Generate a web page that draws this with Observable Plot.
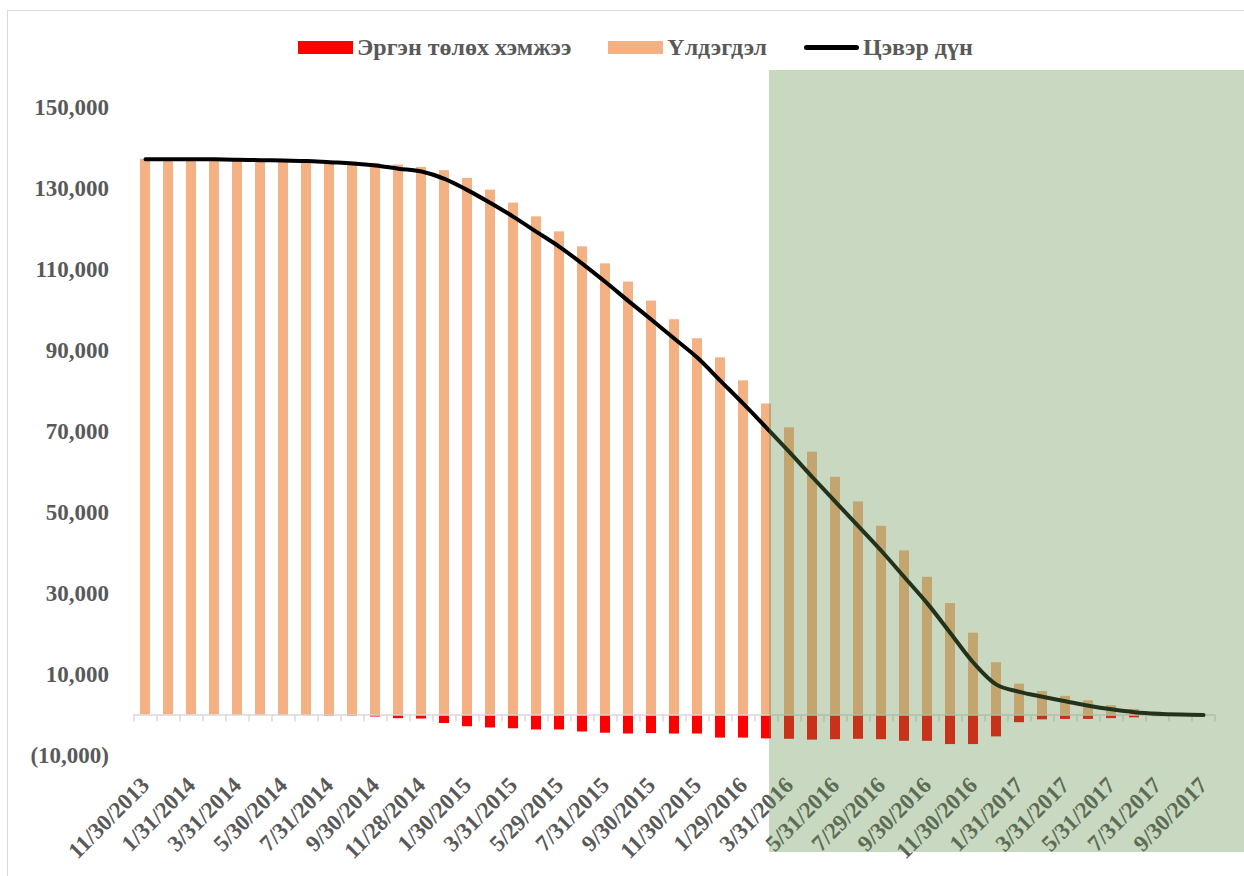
<!DOCTYPE html>
<html><head><meta charset="utf-8">
<script src="https://cdn.jsdelivr.net/npm/d3@7"></script>
<script src="https://cdn.jsdelivr.net/npm/@observablehq/plot@0.6"></script>
<style>
html,body{margin:0;padding:0;background:#fff;}
#wrap{position:relative;width:1244px;height:876px;overflow:hidden;font-family:"Liberation Serif","Times New Roman",serif;}
#frame{position:absolute;left:7px;top:10px;width:1300px;height:900px;border:1.5px solid #d9d9d9;box-sizing:border-box;}
#legend{position:absolute;top:35px;left:298px;height:24px;display:flex;align-items:center;font-weight:bold;font-size:24px;color:#595959;white-space:nowrap;}
.item{display:flex;align-items:center;margin-right:37px}
.sw{width:55px;height:13px;margin-right:4px}
.ln{width:55px;height:5px;border-radius:3px;background:#000;margin-right:4px}
#chart{position:absolute;left:0;top:70px;}
#shade{position:absolute;background:rgb(100,144,75);opacity:0.35;pointer-events:none}
</style></head>
<body><div id="wrap"><div id="frame"></div><div id="legend"></div><div id="chart"></div><div id="shade"></div></div>
<script>
const dates = ["11/30/2013","12/31/2013","1/31/2014","2/28/2014","3/31/2014","4/30/2014","5/30/2014","6/30/2014","7/31/2014","8/29/2014","9/30/2014","10/31/2014","11/28/2014","12/31/2014","1/30/2015","2/27/2015","3/31/2015","4/30/2015","5/29/2015","6/30/2015","7/31/2015","8/31/2015","9/30/2015","10/30/2015","11/30/2015","12/31/2015","1/29/2016","2/29/2016","3/31/2016","4/29/2016","5/31/2016","6/30/2016","7/29/2016","8/31/2016","9/30/2016","10/31/2016","11/30/2016","12/30/2016","1/31/2017","2/28/2017","3/31/2017","4/28/2017","5/31/2017","6/30/2017","7/31/2017","8/31/2017","9/30/2017"];
const xTickLabels = ["11/30/2013","1/31/2014","3/31/2014","5/30/2014","7/31/2014","9/30/2014","11/28/2014","1/30/2015","3/31/2015","5/29/2015","7/31/2015","9/30/2015","11/30/2015","1/29/2016","3/31/2016","5/31/2016","7/29/2016","9/30/2016","11/30/2016","1/31/2017","3/31/2017","5/31/2017","7/31/2017","9/30/2017"];
// Үлдэгдэл (balance)
const balance = [137200,137200,137200,137200,137200,137100,137000,136900,136800,136500,136200,135800,135200,134400,132500,129600,126400,123000,119300,115600,111400,106900,102200,97600,92900,88200,82500,76800,70900,64900,58700,52600,46600,40500,34000,27500,20200,12900,7600,5800,4600,3500,2300,1400,700,300,0];
// Эргэн төлөх хэмжээ (repayment)
const repay = [0,0,0,0,-100,-100,-100,-150,-300,-300,-500,-900,-1000,-2100,-2900,-3200,-3400,-3700,-3700,-4200,-4500,-4700,-4600,-4700,-4700,-5700,-5700,-5900,-6000,-6200,-6100,-6000,-6100,-6500,-6500,-7300,-7300,-5400,-1900,-1200,-1100,-1100,-900,-700,-400,-150,0];
// Цэвэр дүн (net)
const net = [137200,137200,137200,137200,137100,137000,136900,136800,136500,136200,135700,134900,134200,132400,129600,126400,123000,119300,115600,111400,106900,102200,97600,92900,88200,82500,76800,70900,64900,58700,52600,46600,40500,34000,27500,20200,12900,7500,5700,4500,3400,2300,1400,700,300,100,0];
const yTicks = [-10000,10000,30000,50000,70000,90000,110000,130000,150000];
const seriesNames = ["Эргэн төлөх хэмжээ","Үлдэгдэл","Цэвэр дүн"];
const seriesColors = ["#FF0000","#F4B183","#000000"];

// legend
const leg = document.getElementById("legend");
seriesNames.forEach((n,i)=>{
  const it=document.createElement("div"); it.className="item";
  const sw=document.createElement("div");
  if(i<2){sw.className="sw"; sw.style.background=seriesColors[i];} else {sw.className="ln";}
  const t=document.createElement("span"); t.textContent=n;
  it.appendChild(sw); it.appendChild(t); leg.appendChild(it);
});

const rows = dates.map((d,i)=>({date:d, balance:balance[i], repay:repay[i], net:net[i]}));
const W=1244, H=806, mL=133.5, mR=29.5;
const step=(W-mL-mR)/dates.length;
const fmt = v => v<0 ? "("+d3.format(",")(-v)+")" : d3.format(",")(v);

const chart = Plot.plot({
  width: W, height: H, marginTop: 37, marginBottom: 121, marginLeft: mL, marginRight: mR,
  style: {fontFamily:'"Liberation Serif","Times New Roman",serif', fontSize:"23px", fontWeight:"bold", color:"#595959", background:"transparent", overflow:"visible"},
  x: {type:"band", domain: dates, paddingInner: 0.55, paddingOuter: 0.275},
  y: {domain:[-10000,150000]},
  marks: [
    Plot.barY(rows, {x:"date", y:"repay", fill:seriesColors[0]}),
    Plot.barY(rows, {x:"date", y:"balance", fill:seriesColors[1]}),
    Plot.ruleY([0], {stroke:"#d9d9d9", strokeWidth:1.5}),
    Plot.ruleX(dates, {x:d=>d, y1:0, y2:0, insetBottom:-7, dx:-step/2, stroke:"#d9d9d9", strokeWidth:1.5}),
    Plot.ruleX([dates[dates.length-1]], {x:d=>d, y1:0, y2:0, insetBottom:-7, dx:step/2, stroke:"#d9d9d9", strokeWidth:1.5}),
    Plot.line(rows, {x:"date", y:"net", stroke:seriesColors[2], strokeWidth:4, curve:"catmull-rom", strokeLinecap:"round", strokeLinejoin:"round"}),
    Plot.axisY({ticks:yTicks, tickSize:0, tickPadding:25, tickFormat:fmt, label:null}),
    Plot.axisX({ticks:xTickLabels, tickSize:0, tickPadding:26, tickRotate:-45, label:null})
  ]
});
document.getElementById("chart").appendChild(chart);

// highlighted forecast region
const xs = chart.scale("x");
const sh = document.getElementById("shade");
const left = xs.apply(dates[27]) + xs.bandwidth/2 + 3;
sh.style.left = left+"px";
sh.style.top = "70px";
sh.style.width = (W - left + 10)+"px";
sh.style.height = (852-70)+"px";
</script>
</body></html>
